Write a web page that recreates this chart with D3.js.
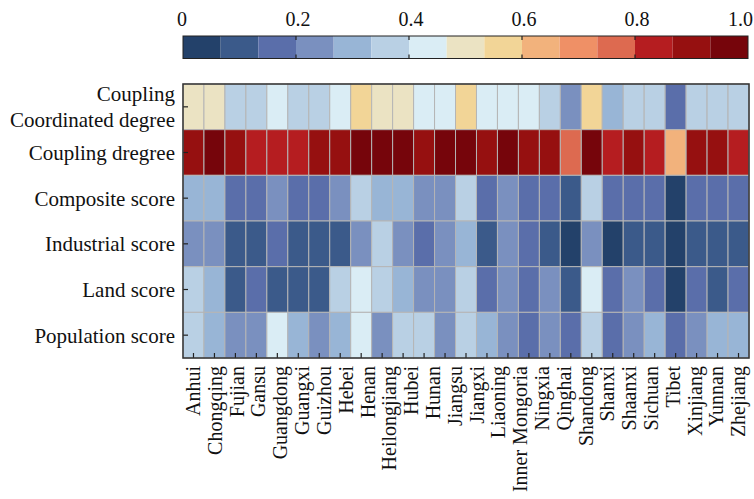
<!DOCTYPE html>
<html>
<head>
<meta charset="utf-8">
<script src="https://cdn.jsdelivr.net/npm/d3@7"></script>
<style>
  body { margin: 0; background: #fff; }
  svg text { font-family: "Liberation Serif", "Times New Roman", Times, serif; fill: #111; }
</style>
</head>
<body>
<svg id="chart"></svg>
<script>
const provinces = ["Anhui", "Chongqing", "Fujian", "Gansu", "Guangdong", "Guangxi", "Guizhou",
  "Hebei", "Henan", "Heilongjiang", "Hubei", "Hunan", "Jiangsu", "Jiangxi", "Liaoning",
  "Inner Mongoria", "Ningxia", "Qinghai", "Shandong", "Shanxi", "Shaanxi", "Sichuan",
  "Tibet", "Xinjiang", "Yunnan", "Zhejiang"];

// the figure has 27 cell columns but only 26 names under them
const columns = d3.range(27);

const rowNames = ["Coupling Coordinated degree", "Coupling dregree", "Composite score",
  "Industrial score", "Land score", "Population score"];

const coordinated = [0.50, 0.50, 0.37, 0.37, 0.43, 0.37, 0.37, 0.43, 0.57, 0.50, 0.50, 0.43, 0.43, 0.57,
  0.43, 0.43, 0.43, 0.37, 0.23, 0.57, 0.30, 0.37, 0.37, 0.17, 0.37, 0.37, 0.37];
const coupling = [0.90, 0.97, 0.90, 0.83, 0.83, 0.83, 0.90, 0.90, 0.97, 0.97, 0.97, 0.90, 0.97, 0.97,
  0.90, 0.97, 0.90, 0.90, 0.77, 0.97, 0.83, 0.90, 0.83, 0.63, 0.90, 0.90, 0.83];
const composite = [0.30, 0.30, 0.17, 0.17, 0.23, 0.17, 0.17, 0.23, 0.37, 0.30, 0.30, 0.23, 0.23, 0.37,
  0.17, 0.23, 0.17, 0.17, 0.10, 0.37, 0.17, 0.17, 0.17, 0.03, 0.17, 0.17, 0.17];
const industrial = [0.23, 0.23, 0.10, 0.10, 0.17, 0.10, 0.10, 0.10, 0.23, 0.37, 0.23, 0.17, 0.23, 0.30,
  0.10, 0.23, 0.17, 0.10, 0.03, 0.23, 0.03, 0.10, 0.10, 0.03, 0.10, 0.10, 0.10];
const land = [0.37, 0.30, 0.10, 0.17, 0.10, 0.10, 0.10, 0.37, 0.43, 0.37, 0.30, 0.23, 0.23, 0.37,
  0.17, 0.23, 0.17, 0.23, 0.10, 0.43, 0.17, 0.23, 0.17, 0.03, 0.17, 0.10, 0.17];
const population = [0.37, 0.30, 0.23, 0.23, 0.43, 0.30, 0.23, 0.30, 0.43, 0.23, 0.37, 0.37, 0.23, 0.37,
  0.30, 0.23, 0.17, 0.23, 0.17, 0.37, 0.17, 0.23, 0.30, 0.17, 0.23, 0.30, 0.30];

const seriesRows = [coordinated, coupling, composite, industrial, land, population];

const palette = ["#23416a", "#3b5a8a", "#5a6eaa", "#7a90bf", "#98b5d6", "#b9d0e4", "#daedf5",
  "#ebe3c3", "#f2d597", "#f2b27c", "#ef9066", "#dd6a50", "#b51d20", "#961010", "#76050b"];
const barTicks = [0, 0.2, 0.4, 0.6, 0.8, 1.0];

const width = 754;
const height = 499;
const plot = { left: 183, right: 749, top: 84, bottom: 358 };
const bar = { top: 36, bottom: 58.5 };
const serif = "'Liberation Serif', 'Times New Roman', Times, serif";

const svg = d3.select("#chart").attr("width", width).attr("height", height);

const color = d3.scaleQuantize().domain([0, 1]).range(palette);

const x = d3.scaleBand().domain(columns).range([plot.left, plot.right]);
const y = d3.scaleBand().domain(rowNames).range([plot.top, plot.bottom]);

// heatmap cells
const cells = [];
seriesRows.forEach((vals, r) => {
  vals.forEach((v, c) => cells.push({ row: rowNames[r], col: c, value: v }));
});

svg.append("g").selectAll("rect")
  .data(cells)
  .enter()
  .append("rect")
  .attr("x", d => x(d.col))
  .attr("y", d => y(d.row))
  .attr("width", x.bandwidth())
  .attr("height", y.bandwidth())
  .attr("fill", d => color(d.value))
  .attr("stroke", "#b5b5b5")
  .attr("stroke-width", 1);

// inside ticks
const yAxis = svg.append("g")
  .attr("transform", `translate(${plot.left},0)`)
  .call(d3.axisRight(y).tickSize(5).tickFormat(""));
yAxis.select(".domain").remove();
yAxis.selectAll("line").attr("stroke", "#222").attr("stroke-width", 1.2);

const xAxis = svg.append("g")
  .attr("transform", `translate(0,${plot.bottom})`)
  .call(d3.axisTop(x).tickSize(5).tickFormat(""));
xAxis.select(".domain").remove();
xAxis.selectAll("line").attr("stroke", "#222").attr("stroke-width", 1.2);

svg.append("rect")
  .attr("x", plot.left)
  .attr("y", plot.top)
  .attr("width", plot.right - plot.left)
  .attr("height", plot.bottom - plot.top)
  .attr("fill", "none")
  .attr("stroke", "#333")
  .attr("stroke-width", 1.5);

// row labels
const rowLabels = svg.append("g").selectAll("text")
  .data(rowNames)
  .enter()
  .append("text")
  .attr("x", plot.left - 8)
  .attr("y", d => y(d) + y.bandwidth() / 2)
  .attr("text-anchor", "end")
  .attr("font-family", serif)
  .attr("font-size", 21);

rowLabels.each(function (d) {
  const t = d3.select(this);
  if (d === "Coupling Coordinated degree") {
    t.append("tspan").attr("x", plot.left - 8).attr("dy", "-0.3em").text("Coupling");
    t.append("tspan").attr("x", plot.left - 8).attr("dy", "1.28em").text("Coordinated degree");
  } else {
    t.attr("dy", "0.35em").text(d);
  }
});

// province labels, spread evenly from first to last column
const xLabel = d3.scalePoint()
  .domain(provinces)
  .range([x(0) + x.bandwidth() / 2, x(26) + x.bandwidth() / 2]);

svg.append("g").selectAll("text")
  .data(provinces)
  .enter()
  .append("text")
  .attr("transform", d => `translate(${xLabel(d)},${plot.bottom + 8}) rotate(-90)`)
  .attr("text-anchor", "end")
  .attr("dy", "0.33em")
  .attr("font-family", serif)
  .attr("font-size", 20)
  .text(d => d);

// colour bar
const xBar = d3.scaleLinear().domain([0, 1]).range([plot.left, 748]);
const bins = palette.map((c, i) => ({ c, lo: i / palette.length, hi: (i + 1) / palette.length }));

svg.append("g").selectAll("rect")
  .data(bins)
  .enter()
  .append("rect")
  .attr("x", d => xBar(d.lo))
  .attr("y", bar.top)
  .attr("width", d => xBar(d.hi) - xBar(d.lo))
  .attr("height", bar.bottom - bar.top)
  .attr("fill", d => d.c);

svg.append("rect")
  .attr("x", xBar(0))
  .attr("y", bar.top)
  .attr("width", xBar(1) - xBar(0))
  .attr("height", bar.bottom - bar.top)
  .attr("fill", "none")
  .attr("stroke", "#222")
  .attr("stroke-width", 1);

const inner = barTicks.slice(1, -1);
svg.append("g").selectAll("line.tt")
  .data(inner)
  .enter()
  .append("line")
  .attr("x1", d => xBar(d)).attr("x2", d => xBar(d))
  .attr("y1", bar.top).attr("y2", bar.top + 4)
  .attr("stroke", "#222").attr("stroke-width", 1.2);
svg.append("g").selectAll("line.bt")
  .data(inner)
  .enter()
  .append("line")
  .attr("x1", d => xBar(d)).attr("x2", d => xBar(d))
  .attr("y1", bar.bottom - 4).attr("y2", bar.bottom)
  .attr("stroke", "#222").attr("stroke-width", 1.2);

svg.append("g").selectAll("text")
  .data(barTicks)
  .enter()
  .append("text")
  .attr("x", d => d === 1 ? 753 : xBar(d) + (d === 0 ? -1 : 2))
  .attr("y", 26)
  .attr("text-anchor", d => d === 1 ? "end" : "middle")
  .attr("font-family", serif)
  .attr("font-size", 20)
  .text(d => d === 1 ? "1.0" : d3.format("")(d));
</script>
</body>
</html>
